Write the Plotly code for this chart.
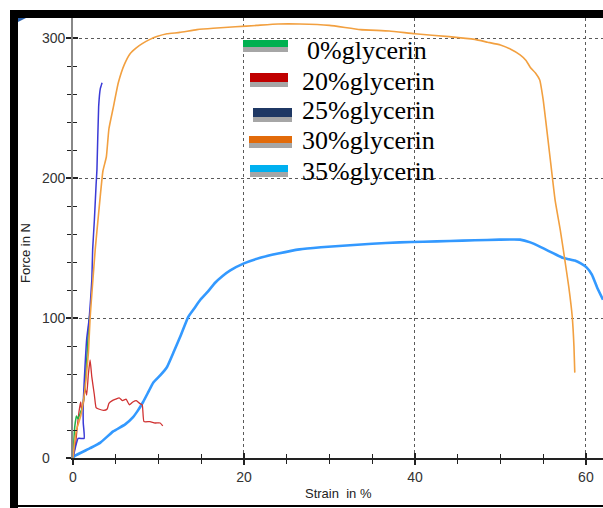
import plotly.graph_objects as go

# ---------------- data ----------------
strain_0 = [0, 0.1, 0.2, 0.4, 0.6, 0.9, 1.1, 1.3, 1.5, 1.7, 1.9, 2.0]
force_0 = [0, 12, 22, 30, 28, 33, 36, 45, 60, 80, 100, 103]

strain_20 = [0, 0.3, 0.5, 0.7, 0.9, 1.0, 1.2, 1.4, 1.6, 1.8, 2.0, 2.2, 2.5, 2.7, 3.0, 3.6, 4.0, 4.2,
             4.6, 5.0, 5.4, 5.8, 6.2, 6.6, 7.0, 7.4, 7.8, 8.1, 8.3, 9.0, 9.6, 10.2, 10.5]
force_20 = [0, 10, 22, 33, 40, 35, 38, 50, 45, 60, 70, 58, 45, 36, 35, 34, 35, 39,
            41, 42, 43, 41, 42, 38, 40, 41, 39, 38, 26, 26, 25, 25, 23]

strain_25 = [0, 0.3, 0.6, 1.3, 1.2, 1.2, 1.4, 1.6, 1.9, 2.2, 2.3, 2.5, 2.7, 2.8, 3.0, 3.2, 3.3, 3.4]
force_25 = [0, 8, 14, 14, 25, 40, 65, 85, 100, 127, 149, 170, 195, 206, 251, 264, 266, 268]

strain_30 = [0, 0.2, 0.4, 0.6, 0.9, 1.2, 1.5, 1.8, 2.0, 2.3, 2.6, 3.0, 3.5, 3.9, 4.2, 4.7, 5.3, 6.0,
             6.7, 7.4, 8.1, 9.0, 9.8, 11.0, 12.5, 14.5, 16.4, 19.0, 21.5, 24.0, 26.5, 30.0, 33.6, 37.0,
             40.0, 44.0, 47.0, 48.5, 50.0, 51.2, 52.3, 53.0, 53.5, 54.1, 54.6, 55.0, 55.3, 55.8, 56.4,
             57.0, 57.5, 58.0, 58.4, 58.6, 58.7]
force_30 = [0, 12, 20, 24, 30, 40, 55, 75, 100, 125, 149, 175, 205, 215, 235, 250, 268, 281,
            289, 293, 296, 299, 301, 303, 304, 306, 307, 308, 309, 310, 310, 309, 306, 305,
            303, 301, 299, 297, 295, 292, 288, 284, 279, 275, 270, 256, 241, 215, 184,
            163, 143, 122, 101, 80, 61]

strain_35 = [0, 0.2, 2.0, 3.2, 4.7, 6.1, 7.0, 7.6, 8.2, 8.8, 9.4, 10.2, 11.0, 11.8, 12.5, 13.5, 14.2,
             14.9, 15.8, 16.6, 17.5, 18.4, 20.0, 21.9, 24.0, 26.5, 29.0, 32.4, 35.0, 38.2, 41.0,
             44.1, 47.0, 49.9, 52.3, 53.5, 54.6, 55.6, 56.6, 57.3, 58.0, 58.7, 59.4, 60.1, 60.7,
             61.3, 62.0]
force_35 = [0, 1.4, 7, 11, 19, 24, 29, 34, 40, 47, 54, 59, 65, 76, 86, 101, 107,
            113, 119, 125, 130, 134, 139, 143, 146, 149, 150.5, 152, 153, 154, 154.5,
            155, 155.5, 156, 156, 154, 151, 148, 145, 143, 142, 141, 139, 136, 131,
            122, 113]

series_names = ["0%glycerin", "20%glycerin", "25%glycerin", "30%glycerin", "35%glycerin"]
x_tick_vals = [0, 20, 40, 60]
x_tick_text = ["0", "20", "40", "60"]
y_tick_vals = [0, 100, 200, 300]
y_tick_text = ["0", "100", "200", "300"]
x_title = "Strain  in %"
y_title = "Force in N"

# ---------------- styles ----------------
line_colors = ["#22b04a", "#d03232", "#3a3ad6", "#f2a040", "#3399ff"]
line_widths = [1.5, 1.3, 1.5, 1.6, 2.6]
legend_colors = ["#00b050", "#c00000", "#1f3864", "#e26b0a", "#00b0f0"]

W, H = 603, 508
L, R, T, B = 73, 603, 18, 458  # plot area in pixels


def PX(px):
    return (px - L) / (R - L)


def PY(py):
    return (B - py) / (B - T)


fig = go.Figure()
data = [(strain_0, force_0), (strain_20, force_20), (strain_25, force_25),
        (strain_30, force_30), (strain_35, force_35)]
order = [4, 1, 0, 2, 3]
for i in order:
    xs, ys = data[i]
    fig.add_trace(go.Scatter(x=xs, y=ys, mode="lines", name=series_names[i],
                             line=dict(color=line_colors[i], width=line_widths[i], shape="spline", smoothing=0.4),
                             showlegend=False, hoverinfo="skip"))
# empty trace for the overlay axes (inside ticks)
fig.add_trace(go.Scatter(x=[], y=[], xaxis="x2", yaxis="y2", showlegend=False))

xr = [0, 62]
yr = [0, (B - T) / 1.4]

grid = dict(showgrid=True, gridcolor="#5a5a5a", gridwidth=1.3, griddash="3px,3px", zeroline=False)
fig.update_layout(
    width=W, height=H, autosize=False,
    margin=dict(l=L, r=W - R, t=T, b=H - B, pad=0),
    paper_bgcolor="white", plot_bgcolor="white",
    showlegend=False,
    xaxis=dict(range=xr, tickvals=x_tick_vals, ticktext=x_tick_text,
               ticks="outside", ticklen=5, tickwidth=1.5, tickcolor="#222",
               minor=dict(ticks="outside", dtick=5, tick0=0, ticklen=4, tickwidth=1.3, tickcolor="#222", showgrid=False),
               showline=True, linecolor="#222", linewidth=1.5,
               tickfont=dict(family="Liberation Sans", size=14, color="#333"),
               **grid),
    yaxis=dict(range=yr, tickvals=y_tick_vals, showticklabels=False,
               ticks="outside", ticklen=5, tickwidth=1.5, tickcolor="#222",
               minor=dict(ticks="outside", dtick=20, tick0=0, ticklen=4, tickwidth=1.3, tickcolor="#222", showgrid=False),
               showline=True, linecolor="#888", linewidth=2.2,
               **grid),
    xaxis2=dict(range=xr, overlaying="x", tickvals=x_tick_vals, showticklabels=False,
                ticks="inside", ticklen=5, tickwidth=1.5, tickcolor="#222",
                minor=dict(ticks="inside", dtick=5, tick0=0, ticklen=4, tickwidth=1.3, tickcolor="#222", showgrid=False),
                showgrid=False, zeroline=False, showline=False),
    yaxis2=dict(range=yr, overlaying="y", tickvals=y_tick_vals, showticklabels=False,
                ticks="inside", ticklen=5, tickwidth=1.5, tickcolor="#222",
                minor=dict(ticks="inside", dtick=20, tick0=0, ticklen=4, tickwidth=1.3, tickcolor="#222", showgrid=False),
                showgrid=False, zeroline=False, showline=False),
)

shapes = []
annotations = []

# frame (black border left/top, thin bottom line)
shapes.append(dict(type="rect", xref="paper", yref="paper", x0=PX(10), x1=PX(18), y0=PY(508), y1=PY(10),
                   fillcolor="black", line=dict(width=0), layer="above"))
shapes.append(dict(type="rect", xref="paper", yref="paper", x0=PX(10), x1=PX(603), y0=PY(18), y1=PY(10),
                   fillcolor="black", line=dict(width=0), layer="above"))
shapes.append(dict(type="rect", xref="paper", yref="paper", x0=PX(10), x1=PX(603), y0=PY(507), y1=PY(505),
                   fillcolor="black", line=dict(width=0), layer="above"))
shapes.append(dict(type="path", xref="paper", yref="paper",
                   path=f"M {PX(18)} {PY(18)} L {PX(26)} {PY(18)} L {PX(18)} {PY(22)} Z",
                   fillcolor="#2a5fa8", line=dict(width=0), layer="above"))

# legend (drawn as bars with grey shadow + serif labels)
bar_x = [(243, 288), (250, 288), (253, 292), (249, 292), (250, 288)]
bar_y = [40, 73, 108, 136, 165]
bar_h = [7, 9, 9, 7, 7]
text_x = [305, 300, 300, 300, 300]
text_y = [50, 81, 111, 140, 171]
for i in range(5):
    x0, x1 = bar_x[i]
    y0 = bar_y[i]
    y1 = y0 + bar_h[i]
    shapes.append(dict(type="rect", xref="paper", yref="paper", x0=PX(x0), x1=PX(x1), y0=PY(y1 + 5), y1=PY(y1),
                       fillcolor="#a6a6a6", line=dict(width=0), layer="above"))
    shapes.append(dict(type="rect", xref="paper", yref="paper", x0=PX(x0), x1=PX(x1), y0=PY(y1), y1=PY(y0),
                       fillcolor=legend_colors[i], line=dict(width=0), layer="above"))
    annotations.append(dict(xref="paper", yref="paper", x=PX(text_x[i]), y=PY(text_y[i]),
                            xanchor="left", yanchor="middle", showarrow=False, text=series_names[i],
                            font=dict(family="Liberation Serif", size=26, color="black")))

# y tick labels (left aligned as in the original)
for v, t in zip(y_tick_vals, y_tick_text):
    annotations.append(dict(xref="paper", yref="y", x=PX(40), y=v, xanchor="left", yanchor="middle",
                            showarrow=False, text=t,
                            font=dict(family="Liberation Sans", size=14, color="#333")))

# axis titles
annotations.append(dict(xref="paper", yref="paper", x=PX(25), y=PY(253), showarrow=False, text=y_title,
                        textangle=-90, xanchor="center", yanchor="middle",
                        font=dict(family="Liberation Sans", size=13, color="#222")))
annotations.append(dict(xref="paper", yref="paper", x=PX(338), y=PY(493), showarrow=False, text=x_title,
                        xanchor="center", yanchor="middle",
                        font=dict(family="Liberation Sans", size=13, color="#222")))

fig.update_layout(shapes=shapes, annotations=annotations)
fig.write_html("out.html", config={"displayModeBar": False},
               post_script="document.body.style.margin='0px';")
